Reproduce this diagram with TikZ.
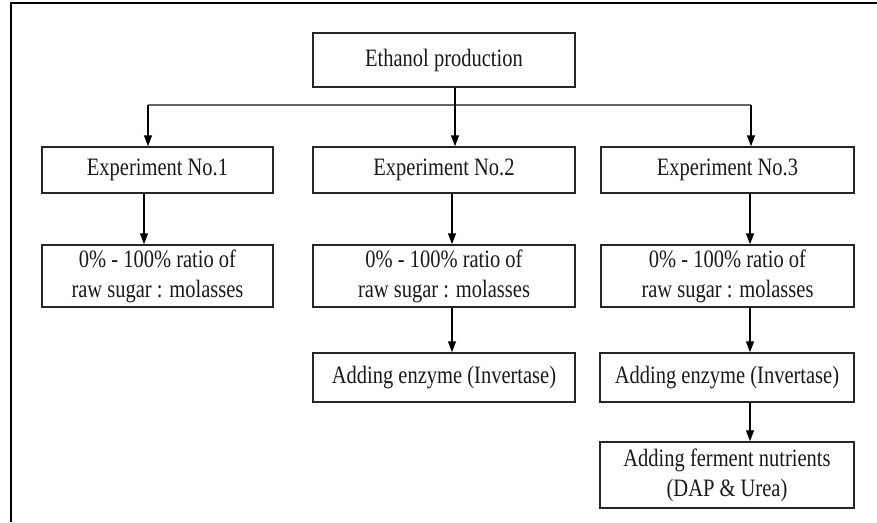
\documentclass[tikz,border=0pt]{standalone}
\usepackage{fontspec}
\setmainfont{Liberation Serif}
\newfontfamily\boxfont{Liberation Serif}[FakeStretch=0.82]
\usetikzlibrary{arrows.meta}
\tikzset{
  box/.style={draw=black!85, line width=1.5pt, inner sep=0pt, align=center,
    text=black!90, font=\boxfont\fontsize{25}{30}\selectfont},
  arr/.style={draw=black, line width=1.3pt, -{Triangle[width=8pt,length=11pt]}},
  conn/.style={draw=black, line width=1.3pt},
  hline/.style={draw=black!60, line width=1.8pt},
  frame/.style={draw=black, line width=2pt}
}
\begin{document}
\begin{tikzpicture}[x=1pt,y=-1pt]
\useasboundingbox (0,0) rectangle (877,522);
\draw[frame] (11,522) -- (11,3) -- (877,3);
% boxes
\node[box, minimum width=262pt, minimum height=54pt] (eth) at (444,60) {Ethanol production};
\node[box, minimum width=231pt, minimum height=46pt] (e1) at (157.5,170) {Experiment No.1};
\node[box, minimum width=262pt, minimum height=46pt] (e2) at (444,170) {Experiment No.2};
\node[box, minimum width=253pt, minimum height=46pt] (e3) at (727.5,170) {Experiment No.3};
\node[box, minimum width=231pt, minimum height=62pt] (r1) at (157.5,276) {0\% - 100\% ratio of\\raw sugar : molasses};
\node[box, minimum width=262pt, minimum height=62pt] (r2) at (444,276) {0\% - 100\% ratio of\\raw sugar : molasses};
\node[box, minimum width=253pt, minimum height=62pt] (r3) at (727.5,276) {0\% - 100\% ratio of\\raw sugar : molasses};
\node[box, minimum width=262pt, minimum height=49pt] (n2) at (444,377.5) {Adding enzyme (Invertase)};
\node[box, minimum width=254pt, minimum height=49pt] (n3) at (727,377.5) {Adding enzyme (Invertase)};
\node[box, minimum width=254pt, minimum height=66pt] (f3) at (727,475) {Adding ferment nutrients\\(DAP \& Urea)};
% connector points
\coordinate (j) at (455,105);
\coordinate (hl) at (148,105);
\coordinate (hr) at (751,105);
\coordinate (a1) at (144,0);
\coordinate (a2) at (452,0);
\coordinate (a3) at (750,0);
% connectors
\draw[hline] (hl) -- (hr);
\draw[conn] (eth.south -| j) -- (j);
\draw[arr] (hl) -- (e1.north -| hl);
\draw[arr] (j) -- (e2.north -| j);
\draw[arr] (hr) -- (e3.north -| hr);
\draw[arr] (e1.south -| a1) -- (r1.north -| a1);
\draw[arr] (e2.south -| a2) -- (r2.north -| a2);
\draw[arr] (e3.south -| a3) -- (r3.north -| a3);
\draw[arr] (r2.south -| a2) -- (n2.north -| a2);
\draw[arr] (r3.south -| a3) -- (n3.north -| a3);
\draw[arr] (n3.south -| a3) -- (f3.north -| a3);
\end{tikzpicture}
\end{document}
